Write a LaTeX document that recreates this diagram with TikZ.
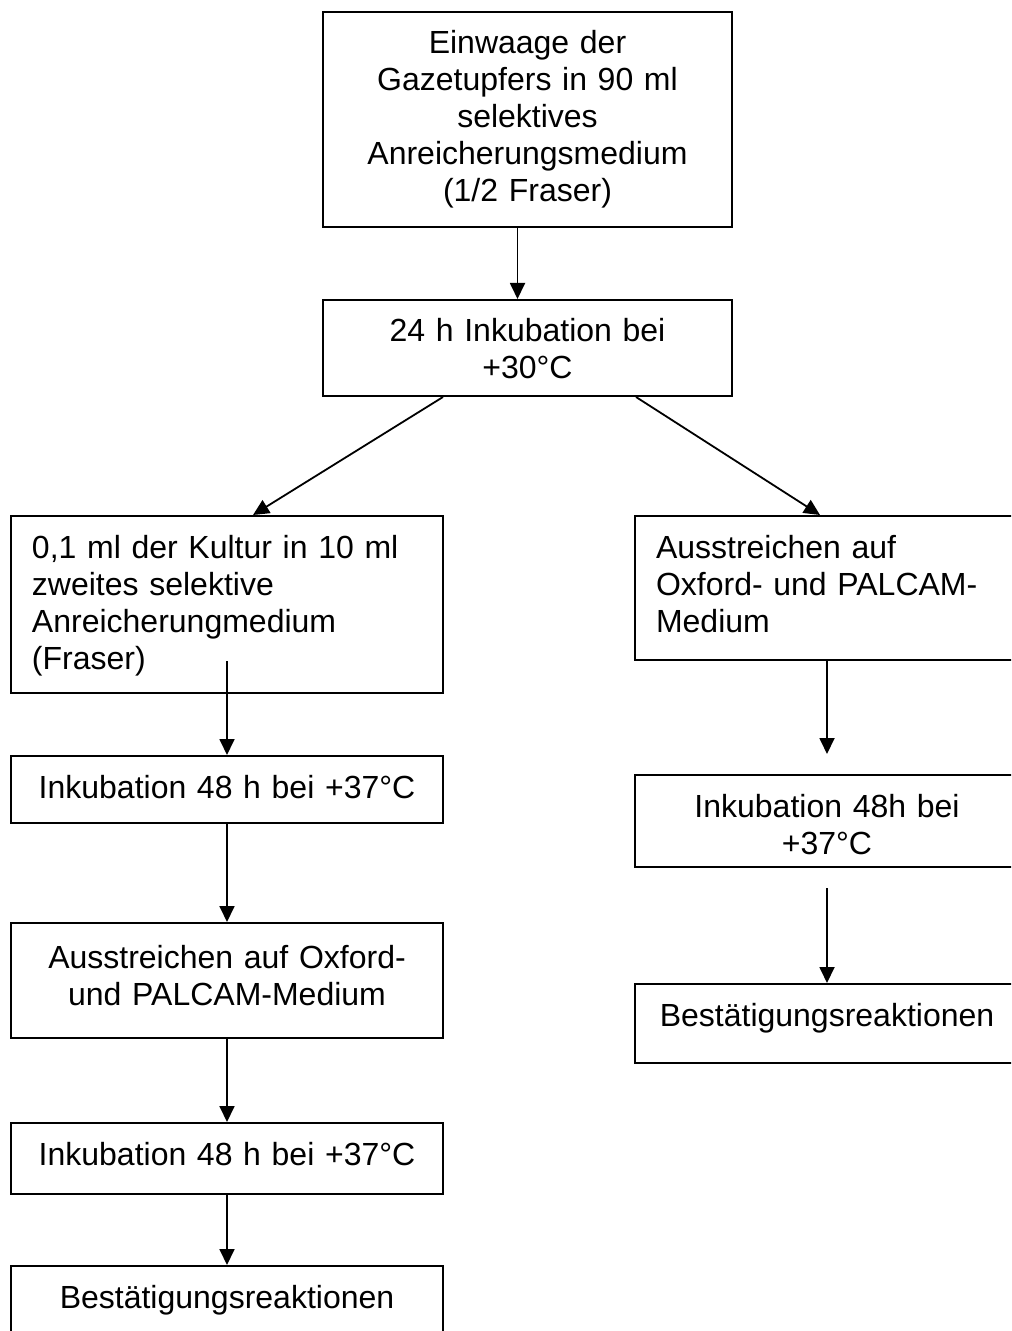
\documentclass[tikz,border=0pt]{standalone}
\usepackage{fontspec}
\setmainfont{Liberation Sans}
\usetikzlibrary{arrows.meta}

\begin{document}
\begin{tikzpicture}[x=0.5pt, y=-0.5pt,
    box/.style={draw, line width=1pt, anchor=north, inner ysep=0pt,
        font=\fontsize{16}{18.5}\selectfont, text height=21pt},
    midbox/.style={box, inner xsep=0pt, align=center},
    leftbox/.style={box, inner xsep=10.5pt, align=left},
    arr/.style={-{Triangle[length=8pt, width=7.5pt]}, line width=0.9pt}]
    \useasboundingbox (0,0) rectangle (1011,1331);
    \clip (0,0) rectangle (1011,1331);

    \node[midbox, text width=204.5pt, text depth=86.5pt] (einwaage) at (527.5,11)
        {Einwaage der\\ Gazetupfers in 90 ml\\ selektives\\ Anreicherungsmedium\\ (1/2 Fraser)};
    \node[midbox, text width=204.5pt, text depth=27pt] (inkub30) at (527.5,299)
        {24 h Inkubation bei\\ +30°C};

    \node[leftbox, text width=195pt, text depth=67.5pt] (kultur) at (227,515)
        {0,1 ml der Kultur in 10 ml\\ zweites selektive\\ Anreicherungmedium\\ (Fraser)};
    \node[midbox, text width=216pt, text depth=12.5pt] (inkubL1) at (227,755)
        {Inkubation 48 h bei +37°C};
    \node[midbox, text width=216pt, text height=22.5pt, text depth=35pt] (ausstrL) at (227,922)
        {Ausstreichen auf Oxford-\\ und PALCAM-Medium};
    \node[midbox, text width=216pt, text depth=14.5pt] (inkubL2) at (227,1122)
        {Inkubation 48 h bei +37°C};
    \node[midbox, text width=216pt, text depth=15pt] (bestL) at (227,1265)
        {Bestätigungsreaktionen};

    \node[leftbox, text width=171pt, text depth=51pt] (ausstrR) at (827,515)
        {Ausstreichen auf\\ Oxford- und PALCAM-\\ Medium};
    \node[midbox, text width=192pt, text depth=25pt] (inkubR) at (827,774)
        {Inkubation 48h bei\\ +37°C};
    \node[midbox, text width=192pt, text depth=18.5pt] (bestR) at (827,983)
        {Bestätigungsreaktionen};

    \draw[arr] ([xshift=-5pt]einwaage.south) -- ([xshift=-5pt]inkub30.north);
    \draw[arr] ([xshift=-42.25pt]inkub30.south) -- ([xshift=13pt]kultur.north);
    \draw[arr] ([xshift=54.25pt]inkub30.south) -- ([xshift=-3.5pt]ausstrR.north);

    \draw[arr] ([yshift=16.5pt]kultur.south) -- (inkubL1.north);
    \draw[arr] (inkubL1) -- (ausstrL);
    \draw[arr] (ausstrL) -- (inkubL2);
    \draw[arr] (inkubL2) -- (bestL);

    \draw[arr] (ausstrR) -- ([yshift=10pt]inkubR.north);
    \draw[arr] ([yshift=-10pt]inkubR.south) -- (bestR);
\end{tikzpicture}
\end{document}
